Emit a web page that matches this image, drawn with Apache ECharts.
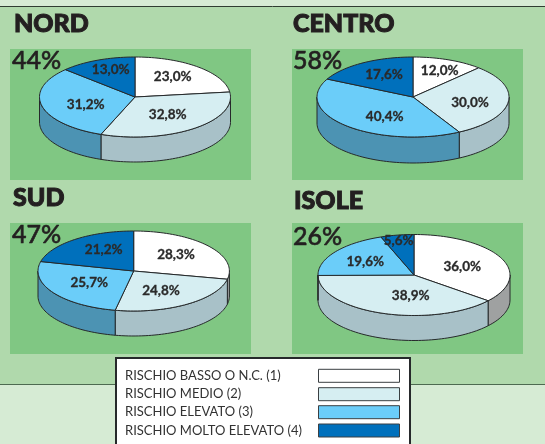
<!DOCTYPE html>
<html><head><meta charset="utf-8">
<style>html,body{margin:0;padding:0;background:#b0d9ac}#c{width:545px;height:444px}</style>
<script src="https://cdn.jsdelivr.net/npm/echarts@6/dist/echarts.min.js"></script>
</head><body><div id="c"></div>
<script>
// ---- data ----
const regions = ['NORD','CENTRO','SUD','ISOLE'];
const headline = ['44%','58%','47%','26%'];
const nord   = [23.0,32.8,31.2,13.0];
const centro = [12.0,30.0,40.4,17.6];
const sud    = [28.3,24.8,25.7,21.2];
const isole  = [36.0,38.9,19.6,5.6];
const riskNames = ['RISCHIO BASSO O N.C. (1)','RISCHIO MEDIO (2)','RISCHIO ELEVATO (3)','RISCHIO MOLTO ELEVATO (4)'];
const values = [nord,centro,sud,isole];

// ---- styles / layout ----
const topColors  = ['#ffffff','#d6eef2','#6bcdf9','#0070bc'];
const sideColors = ['#9fa1a1','#a8c1c8','#4c93b3','#0a5a94'];
const edge = '#26292b';
const FONT = 'Lato';
const layouts = [
 {cx:135,cy:97,rx:95.5,ry:40,d:25,panel:[10,49,241,131],title:[14,24],big:[12,61],
  labels:[[172.7,76.7],[167.7,115],[85.7,105],[110.7,69.3]]},
 {cx:413,cy:97,rx:96,ry:40,d:26,panel:[292,49,231,131],title:[293,24],big:[293,61],
  labels:[[439.7,71],[470,102.3],[384.7,116.3],[384,74.3]]},
 {cx:133.7,cy:271,rx:95.7,ry:40,d:25,panel:[10,223,241,131],title:[13,198],big:[12,235],
  labels:[[176,254.7],[161,290.3],[89.3,282.3],[103.7,250]]},
 {cx:414,cy:275,rx:96,ry:40.5,d:25,panel:[292,223,231,131],title:[294,201],big:[293,237],
  labels:[[462.3,266.3],[410.7,295.3],[365.3,262],[398.7,241]]}
];
const fmt = v => v.toFixed(1).replace('.',',')+'%';

function pt(L,deg,dy){const t=deg*Math.PI/180;return [L.cx+L.rx*Math.sin(t),L.cy-L.ry*Math.cos(t)+(dy||0)];}

function makeRender(r){
  const L=layouts[r], vals=values[r];
  const total=vals.reduce((a,b)=>a+b,0);
  return function(params,api){
    const i=params.dataIndex;
    let before=0; for(let k=0;k<i;k++) before+=vals[k];
    const a=before/total*360, b=(before+api.value(0))/total*360;
    const children=[];
    const sa=Math.max(a,90), sb=Math.min(b,270);
    if(sb>sa){
      const pts=[];
      for(let t=sa;t<sb;t+=2) pts.push(pt(L,t));
      pts.push(pt(L,sb));
      for(let t=sb;t>sa;t-=2) pts.push(pt(L,t,L.d));
      pts.push(pt(L,sa,L.d));
      children.push({type:'polygon',shape:{points:pts},
        style:{fill:sideColors[i],stroke:edge,lineWidth:1,lineJoin:'round'}});
    }
    const top=[[L.cx,L.cy]];
    for(let t=a;t<b;t+=2) top.push(pt(L,t));
    top.push(pt(L,b));
    children.push({type:'polygon',shape:{points:top},
      style:{fill:topColors[i],stroke:edge,lineWidth:1,lineJoin:'round'}});
    children.push({type:'text',z2:10,style:{text:fmt(api.value(0)),x:L.labels[i][0],y:L.labels[i][1],
      align:'center',verticalAlign:'middle',font:'700 13.5px '+FONT,fill:'#2a2a2a',stroke:'#2a2a2a',lineWidth:0.3}});
    return {type:'group',children};
  };
}

// ---- static furniture ----
const g=[];
g.push({type:'rect',z:-10,shape:{x:0,y:0,width:545,height:7},style:{fill:'#d6ebd4'}});
g.push({type:'rect',z:-10,shape:{x:0,y:384,width:545,height:60},style:{fill:'#d6ebd4'}});
g.push({type:'line',z:-9,shape:{x1:0,y1:6.5,x2:545,y2:6.5},style:{stroke:'#2f3d31',lineWidth:1}});
g.push({type:'line',z:-9,shape:{x1:0,y1:384.5,x2:545,y2:384.5},style:{stroke:'#4d6a50',lineWidth:1}});
layouts.forEach((L,r)=>{
  g.push({type:'rect',z:-8,shape:{x:L.panel[0],y:L.panel[1],width:L.panel[2],height:L.panel[3]},style:{fill:'#80c783'}});
  g.push({type:'text',z:50,style:{text:regions[r],x:L.title[0],y:L.title[1],verticalAlign:'middle',font:'900 25px '+FONT,fill:'#231f20',stroke:'#231f20',lineWidth:1}});
  g.push({type:'text',z:50,style:{text:headline[r],x:L.big[0],y:L.big[1],verticalAlign:'middle',font:'500 25px '+FONT,fill:'#231f20',stroke:'#231f20',lineWidth:0.6}});
});
g.push({type:'rect',z:60,shape:{x:116,y:358,width:294,height:90},style:{fill:'#fff',stroke:'#26292b',lineWidth:2}});
const legendY=[375.8,394.2,412.2,430.5];
riskNames.forEach((n,i)=>{
  g.push({type:'text',z:61,style:{text:n,x:125,y:legendY[i],verticalAlign:'middle',font:'400 13px '+FONT,fill:'#333'}});
  g.push({type:'rect',z:61,shape:{x:318.5,y:legendY[i]-6.5,width:81,height:13},style:{fill:topColors[i],stroke:'#3a3f42',lineWidth:1}});
});

const chart=echarts.init(document.getElementById('c'),null,{renderer:'canvas'});
chart.setOption({
  animation:false,
  backgroundColor:'#b0d9ac',
  graphic:{elements:g},
  series:regions.map((name,r)=>({
    type:'custom',name,coordinateSystem:'none',
    data:values[r].map(v=>[v]),
    renderItem:makeRender(r)
  }))
});
</script></body></html>
